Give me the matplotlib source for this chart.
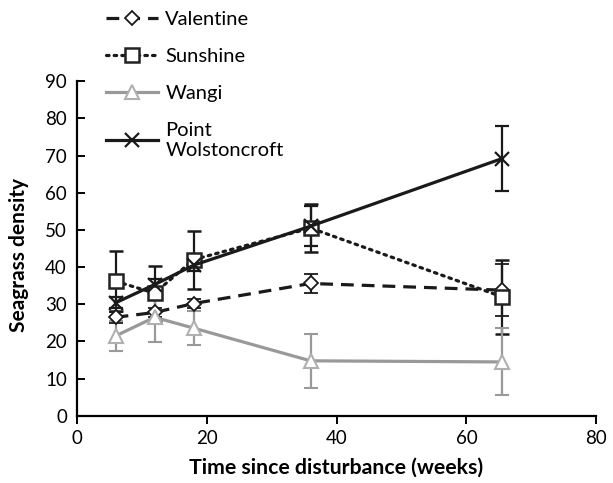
import matplotlib
matplotlib.use("Agg")
import matplotlib.pyplot as plt

plt.rcParams['font.family'] = ['Lato', 'DejaVu Sans']

weeks = [6, 12, 18, 36, 65.5]
valentine = [26.5, 27.8, 30.2, 35.6, 33.8]
valentine_err = [1.5, 1.2, 1.2, 2.5, 7.0]
sunshine = [36.2, 33.0, 42.0, 50.5, 32.0]
sunshine_err = [8.0, 7.4, 7.8, 6.5, 10.0]
wangi = [21.5, 26.5, 23.6, 14.8, 14.5]
wangi_err = [4.0, 6.6, 4.5, 7.2, 9.0]
point_w = [30.4, 35.3, 40.5, 51.0, 69.2]
point_w_err = [1.5, 1.5, 1.5, 5.4, 8.8]

fig = plt.figure(figsize=(6.13, 4.83), dpi=100)
ax = fig.add_axes([0.125, 0.139, 0.848, 0.693])

lw = 2.3
ek = dict(capsize=5, elinewidth=1.6, capthick=1.6)
h1 = ax.errorbar(weeks, valentine, yerr=valentine_err, color='#1a1a1a', ls=(0, (4, 2.5)),
                 lw=lw, marker='D', ms=7, mfc='white', mec='#1a1a1a', mew=1.3, ecolor='#1a1a1a', **ek)
h2 = ax.errorbar(weeks, sunshine, yerr=sunshine_err, color='#1a1a1a', ls=(0, (0.8, 1.6)),
                 lw=lw, marker='s', ms=10, mfc='white', mec='#222222', mew=1.8, ecolor='#1a1a1a',
                 dash_capstyle='round', **ek)
h3 = ax.errorbar(weeks, wangi, yerr=wangi_err, color='#999999', ls='-',
                 lw=lw, marker='^', ms=10, mfc='white', mec='#b0b0b0', mew=1.5, ecolor='#999999', **ek)
h4 = ax.errorbar(weeks, point_w, yerr=point_w_err, color='#1a1a1a', ls='-',
                 lw=lw, marker='x', ms=10, mec='#1a1a1a', mew=1.6, ecolor='#1a1a1a', **ek)
for h in (h1, h2, h3, h4):
    h[0].set_zorder(3)

ax.set_xlim(0, 80)
ax.set_ylim(0, 90)
ax.set_xticks([0, 20, 40, 60, 80])
ax.set_yticks(range(0, 91, 10))
ax.spines['top'].set_visible(False)
ax.spines['right'].set_visible(False)
ax.spines['left'].set_linewidth(1.6)
ax.spines['bottom'].set_linewidth(1.6)
ax.tick_params(axis='y', direction='in', length=6, width=1.4, labelsize=13.5, pad=7)
ax.tick_params(axis='x', direction='out', length=6, width=1.4, labelsize=13.5, pad=4)
ax.set_xlabel('Time since disturbance (weeks)', fontsize=15.3, fontweight='bold', labelpad=8)
ax.set_ylabel('Seagrass density', fontsize=15, fontweight='bold')
ax.yaxis.set_label_coords(-0.092, 0.48)

handles = [h1[0], h2[0], h3[0], h4[0]]
labels = ['Valentine', 'Sunshine', 'Wangi', 'Point\nWolstoncroft']
leg = fig.legend(handles, labels, loc='upper left', bbox_to_anchor=(106/613, 1 - 11/483),
                 frameon=False, fontsize=14.5, handlelength=2.6, handletextpad=0.35,
                 labelspacing=0.98, borderpad=0, borderaxespad=0)
leg.get_texts()[3].set_linespacing(1.25)

fig.savefig('out.png', dpi=100)
